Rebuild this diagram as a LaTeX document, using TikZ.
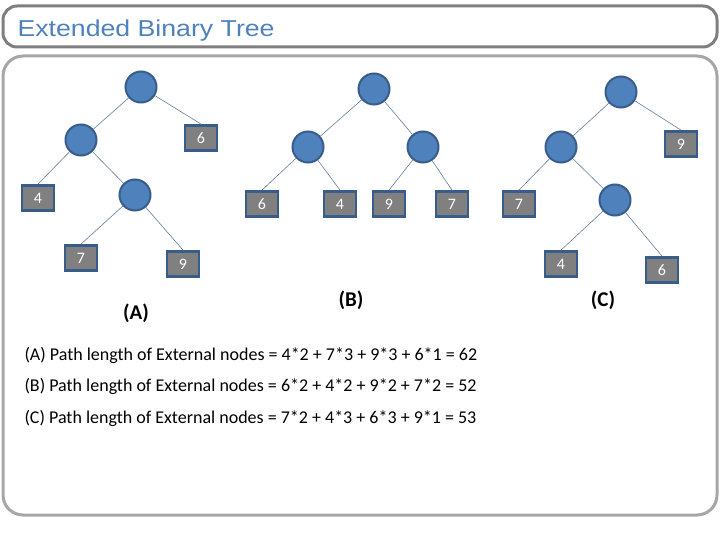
\documentclass[tikz,border=0pt]{standalone}
\usepackage{fontspec}
\setmainfont{Carlito}
\newfontfamily\titlefont[FakeStretch=1.16]{Liberation Sans}
\usetikzlibrary{positioning}
\definecolor{nodeblue}{RGB}{79,129,189}
\definecolor{edgeblue}{RGB}{56,93,138}
\definecolor{boxgray}{RGB}{128,128,128}
\definecolor{framedark}{RGB}{127,127,127}
\definecolor{framelight}{RGB}{166,166,166}
\definecolor{titleblue}{RGB}{79,129,189}
\tikzset{
  inner/.style={circle, fill=nodeblue, draw=edgeblue, line width=2pt, minimum size=31pt, inner sep=0pt},
  ext/.style={rectangle, fill=boxgray, draw=edgeblue, line width=2.8pt, minimum width=32pt, minimum height=25pt, inner sep=0pt, text=white, font=\fontsize{16}{18}\selectfont},
  link/.style={draw=edgeblue!80, line width=0.6pt},
  tag/.style={font=\bfseries\fontsize{21}{24}\selectfont},
  sum/.style={anchor=west, font=\fontsize{18}{20}\selectfont}
}

\begin{document}
\begin{tikzpicture}[x=1pt, y=-1pt]
    \useasboundingbox (0,0) rectangle (720,540);
    % Frames
    \draw[framedark, line width=3pt, rounded corners=14pt] (3,6) rectangle (717,47);
    \node[anchor=west, text=titleblue, font=\titlefont\fontsize{23}{26}\selectfont] (title) at (14,31) {Extended Binary Tree};
    \draw[framelight, line width=3pt, rounded corners=20pt] (3,56) rectangle (717,515);

    % Tree (A)
    \node[inner] (a1) at (141,87) {};
    \node[inner] (a2) at (81,140) {};
    \node[inner] (a3) at (135,195) {};
    \node[ext] (a6) at (201,138) {6};
    \node[ext] (a4) at (38,198) {4};
    \node[ext] (a7) at (81,258) {7};
    \node[ext] (a9) at (183,264) {9};
    \draw[link] (a1) -- (a2);
    \draw[link] (a1) -- (a6.north);
    \draw[link] (a2) -- (a4.north);
    \draw[link] (a2) -- (a3);
    \draw[link] (a3) -- (a7.north);
    \draw[link] (a3) -- (a9.north);
    \node[tag] (ta) at (136,313) {(A)};

    % Tree (B)
    \node[inner] (b1) at (374,89) {};
    \node[inner] (b2) at (308,147) {};
    \node[inner] (b3) at (423,147) {};
    \node[ext] (b6) at (262,204) {6};
    \node[ext] (b4) at (340,204) {4};
    \node[ext] (b9) at (389,204) {9};
    \node[ext] (b7) at (452,204) {7};
    \draw[link] (b1) -- (b2);
    \draw[link] (b1) -- (b3);
    \draw[link] (b2) -- (b6.north);
    \draw[link] (b2) -- (b4.north);
    \draw[link] (b3) -- (b9.north);
    \draw[link] (b3) -- (b7.north);
    \node[tag] (tb) at (351,300) {(B)};

    % Tree (C)
    \node[inner] (c1) at (621,92) {};
    \node[inner] (c2) at (561,147) {};
    \node[inner] (c3) at (615,200) {};
    \node[ext] (c9) at (681,144) {9};
    \node[ext] (c7) at (519,204) {7};
    \node[ext] (c4) at (561,264) {4};
    \node[ext] (c6) at (662,270) {6};
    \draw[link] (c1) -- (c2);
    \draw[link] (c1) -- (c9.north);
    \draw[link] (c2) -- (c7.north);
    \draw[link] (c2) -- (c3);
    \draw[link] (c3) -- (c4.north);
    \draw[link] (c3) -- (c6.north);
    \node[tag] (tc) at (603,300) {(C)};

    % Path lengths
    \node[sum] (sa) at (21,355) {(A) Path length of External nodes = 4*2 + 7*3 + 9*3 + 6*1 = 62};
    \node[sum] (sb) at (21,386) {(B) Path length of External nodes = 6*2 + 4*2 + 9*2 + 7*2 = 52};
    \node[sum] (sc) at (21,418) {(C) Path length of External nodes = 7*2 + 4*3 + 6*3 + 9*1 = 53};
\end{tikzpicture}
\end{document}
